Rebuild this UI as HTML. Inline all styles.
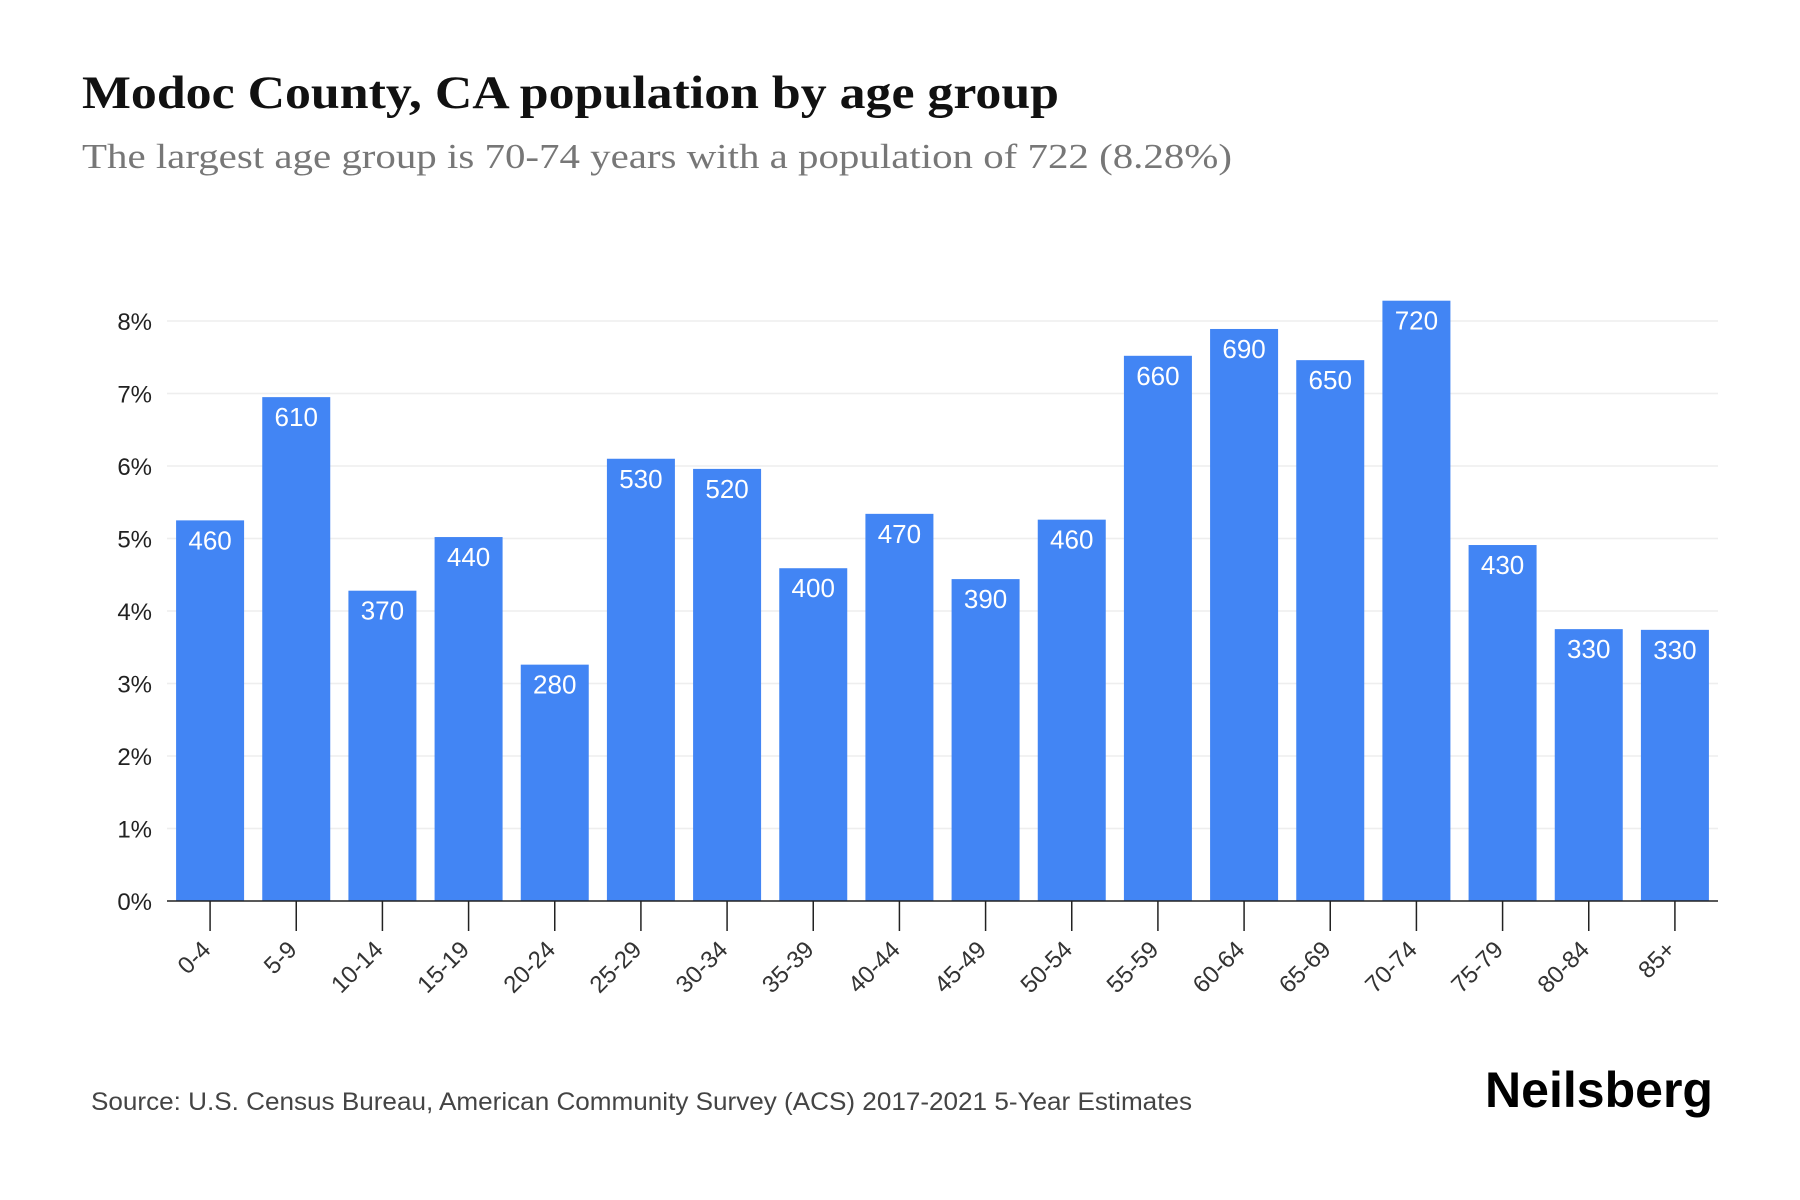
<!DOCTYPE html>
<html><head><meta charset="utf-8"><style>
html,body{margin:0;padding:0;background:#fff;}
svg{display:block;}
</style></head><body>
<svg id="chart" width="1800" height="1200" viewBox="0 0 1800 1200" xmlns="http://www.w3.org/2000/svg">
<text x="82" y="108" font-family="Liberation Serif, serif" font-weight="bold" font-size="47" fill="#111" textLength="977" lengthAdjust="spacingAndGlyphs">Modoc County, CA population by age group</text>
<text x="82" y="168" font-family="Liberation Serif, serif" font-size="35" fill="#777" textLength="1150" lengthAdjust="spacingAndGlyphs">The largest age group is 70-74 years with a population of 722 (8.28%)</text>
<g id="grid"></g>
<g id="bars"></g>
<g id="xaxis"></g>
<text x="91" y="1110" font-family="Liberation Sans, sans-serif" font-size="25" fill="#444" textLength="1101" lengthAdjust="spacingAndGlyphs">Source: U.S. Census Bureau, American Community Survey (ACS) 2017-2021 5-Year Estimates</text>
<text x="1485" y="1107" font-family="Liberation Sans, sans-serif" font-weight="bold" font-size="50" fill="#000" textLength="228" lengthAdjust="spacingAndGlyphs">Neilsberg</text>
</svg>
<script>
const categories = ["0-4","5-9","10-14","15-19","20-24","25-29","30-34","35-39","40-44","45-49","50-54","55-59","60-64","65-69","70-74","75-79","80-84","85+"];
const percents = [5.25,6.95,4.28,5.02,3.26,6.10,5.96,4.59,5.34,4.44,5.26,7.52,7.89,7.46,8.28,4.91,3.75,3.74];
const labels = ["460","610","370","440","280","530","520","400","470","390","460","660","690","650","720","430","330","330"];
const yTicks = [0,1,2,3,4,5,6,7,8];

const NS = "http://www.w3.org/2000/svg";
const x0 = 167, x1 = 1718, y0 = 901, pxPerPct = 72.5;
const band = (x1 - x0) / categories.length;
const barW = 68;
function yScale(v){ return y0 - v * pxPerPct; }
function xCenter(i){ return x0 + band * (i + 0.5); }
function mk(tag, attrs, parent){ const e = document.createElementNS(NS, tag); for (const k in attrs) e.setAttribute(k, attrs[k]); parent.appendChild(e); return e; }

const grid = document.getElementById('grid');
yTicks.forEach(t => {
  if (t > 0) {
    const l = mk('line', {x1:x0, x2:x1, y1:yScale(t), y2:yScale(t), stroke:'#eeeeee', 'stroke-width':1.5}, grid);
    
    
  }
  const tx = mk('text', {x:152, y:yScale(t)+9, 'text-anchor':'end', 'font-family':'Liberation Sans, sans-serif', 'font-size':24, fill:'#222'}, grid);
  tx.textContent = t + '%';
  
  
});

const bars = document.getElementById('bars');
categories.forEach((c, i) => {
  const cx = xCenter(i);
  const r = mk('rect', {x:cx - barW/2, y:yScale(percents[i]), width:barW, height:y0 - yScale(percents[i]), fill:'#4285f4'}, bars);
  
  
  const t = mk('text', {x:cx, y:yScale(percents[i]) + 29, 'text-anchor':'middle', 'font-family':'Liberation Sans, sans-serif', 'font-size':26, fill:'#fff'}, bars);
  t.textContent = labels[i];
  
  
});

const xa = document.getElementById('xaxis');
const axis = mk('line', {x1:x0, x2:x1, y1:y0, y2:y0, stroke:'#222', 'stroke-width':1.5}, xa);


categories.forEach((c, i) => {
  const cx = xCenter(i);
  const tk = mk('line', {x1:cx, x2:cx, y1:y0, y2:y0+30, stroke:'#222', 'stroke-width':1.5}, xa);
  
  
  const ax = cx + 2, ay = y0 + 50;
  const t = mk('text', {x:ax, y:ay, 'text-anchor':'end', transform:'rotate(-45 ' + ax + ' ' + ay + ')', 'font-family':'Liberation Sans, sans-serif', 'font-size':24, fill:'#333'}, xa);
  t.textContent = c;
  
  
});
</script>
</body></html>
